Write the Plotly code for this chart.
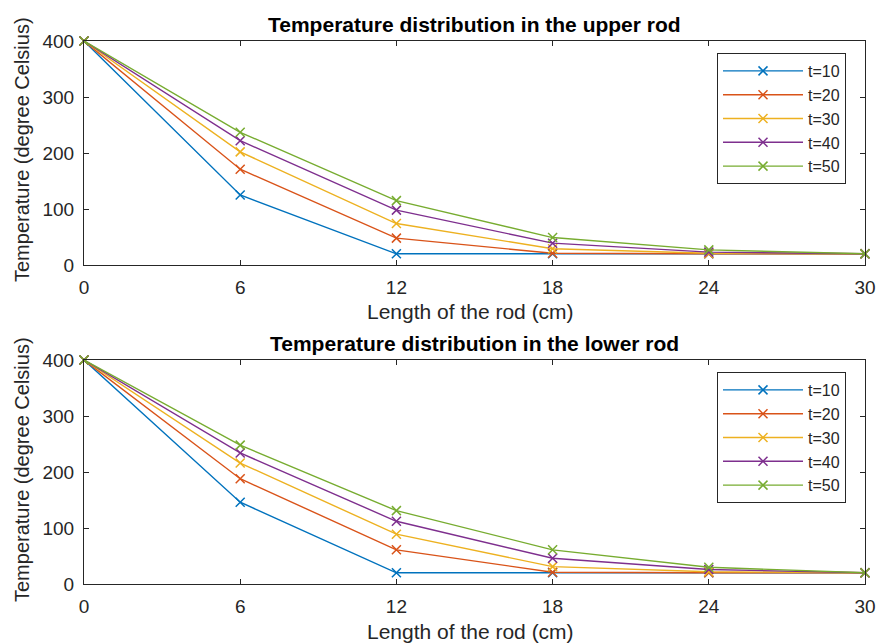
import plotly.graph_objects as go

x_pos = [0, 6, 12, 18, 24, 30]
labels = ["t=10", "t=20", "t=30", "t=40", "t=50"]
upper = [
    [400, 125, 20, 20, 20, 20],
    [400, 171, 48, 21, 20, 20],
    [400, 202, 74, 29, 21, 20],
    [400, 222, 98, 39, 23, 20],
    [400, 237, 115, 49, 27, 20],
]
lower = [
    [400, 146, 20, 20, 20, 20],
    [400, 188, 61, 21, 20, 20],
    [400, 216, 89, 31, 22, 20],
    [400, 234, 112, 46, 26, 20],
    [400, 248, 131, 61, 30, 20],
]
colors = ["#0072BD", "#D95319", "#EDB120", "#7E2F8E", "#77AC30"]
titles = ["Temperature distribution in the upper rod", "Temperature distribution in the lower rod"]
x_ticks = [0, 6, 12, 18, 24, 30]
y_ticks = [0, 100, 200, 300, 400]

FONT = "Liberation Sans, Arial, Helvetica, sans-serif"
AX = "#262626"
W, H = 881, 644

fig = go.Figure()
for k, (data, xa, ya, leg) in enumerate([(upper, "x", "y", "legend"), (lower, "x2", "y2", "legend2")]):
    for i, lab in enumerate(labels):
        fig.add_trace(go.Scatter(
            x=x_pos, y=data[i], mode="lines+markers", name=lab,
            xaxis=xa, yaxis=ya, legend=leg, cliponaxis=False,
            line=dict(color=colors[i], width=1.4),
            marker=dict(symbol="x-thin", size=9, line=dict(color=colors[i], width=1.5)),
        ))

xd = [84 / W, 865 / W]
yd_up = [1 - 265 / H, 1 - 41 / H]
yd_lo = [1 - 584 / H, 1 - 360 / H]

def xaxis(anchor):
    return dict(domain=xd, anchor=anchor, range=[0, 30], tickvals=x_ticks, ticks="inside",
                ticklen=5, tickcolor=AX, showline=True, linecolor=AX, linewidth=1, mirror="ticks",
                showgrid=False, zeroline=False, tickfont=dict(family=FONT, size=19, color=AX),
                ticklabelstandoff=5, automargin=False)

def yaxis(anchor, dom):
    return dict(domain=dom, anchor=anchor, range=[0, 400], tickvals=y_ticks, ticks="inside",
                ticklen=5, tickcolor=AX, showline=True, linecolor=AX, linewidth=1, mirror="ticks",
                showgrid=False, zeroline=False, tickfont=dict(family=FONT, size=19, color=AX),
                ticklabelstandoff=5, automargin=False)

def legend(ytop):
    return dict(x=846 / W, xanchor="right", y=1 - ytop / H, yanchor="top",
                bgcolor="white", bordercolor=AX, borderwidth=1,
                font=dict(family=FONT, size=16, color=AX), tracegroupgap=0, itemwidth=80)

annotations = []
for tt, yref, xref in [(titles[0], "y domain", "x domain"), (titles[1], "y2 domain", "x2 domain")]:
    annotations.append(dict(text="<b>" + tt + "</b>", xref=xref, yref=yref, x=0.5, y=1.0,
                            xanchor="center", yanchor="bottom", yshift=3, showarrow=False,
                            font=dict(family=FONT, size=21, color="black")))
for yc in [311, 631]:
    annotations.append(dict(text="Length of the rod (cm)", xref="paper", yref="paper",
                            x=470 / W, y=1 - yc / H, xanchor="center", yanchor="middle",
                            showarrow=False, font=dict(family=FONT, size=21, color=AX)))
for yc in [150, 470]:
    annotations.append(dict(text="Temperature (degree Celsius)", xref="paper", yref="paper",
                            x=22 / W, y=1 - yc / H, xanchor="center", yanchor="middle",
                            textangle=-90, showarrow=False, font=dict(family=FONT, size=20, color=AX)))

fig.update_layout(
    width=W, height=H, margin=dict(l=0, r=0, t=0, b=0),
    paper_bgcolor="white", plot_bgcolor="white",
    xaxis=xaxis("y"), yaxis=yaxis("x", yd_up),
    xaxis2=xaxis("y2"), yaxis2=yaxis("x2", yd_lo),
    legend=legend(53), legend2=legend(372),
    annotations=annotations, showlegend=True,
)
fig.write_html("out.html")
